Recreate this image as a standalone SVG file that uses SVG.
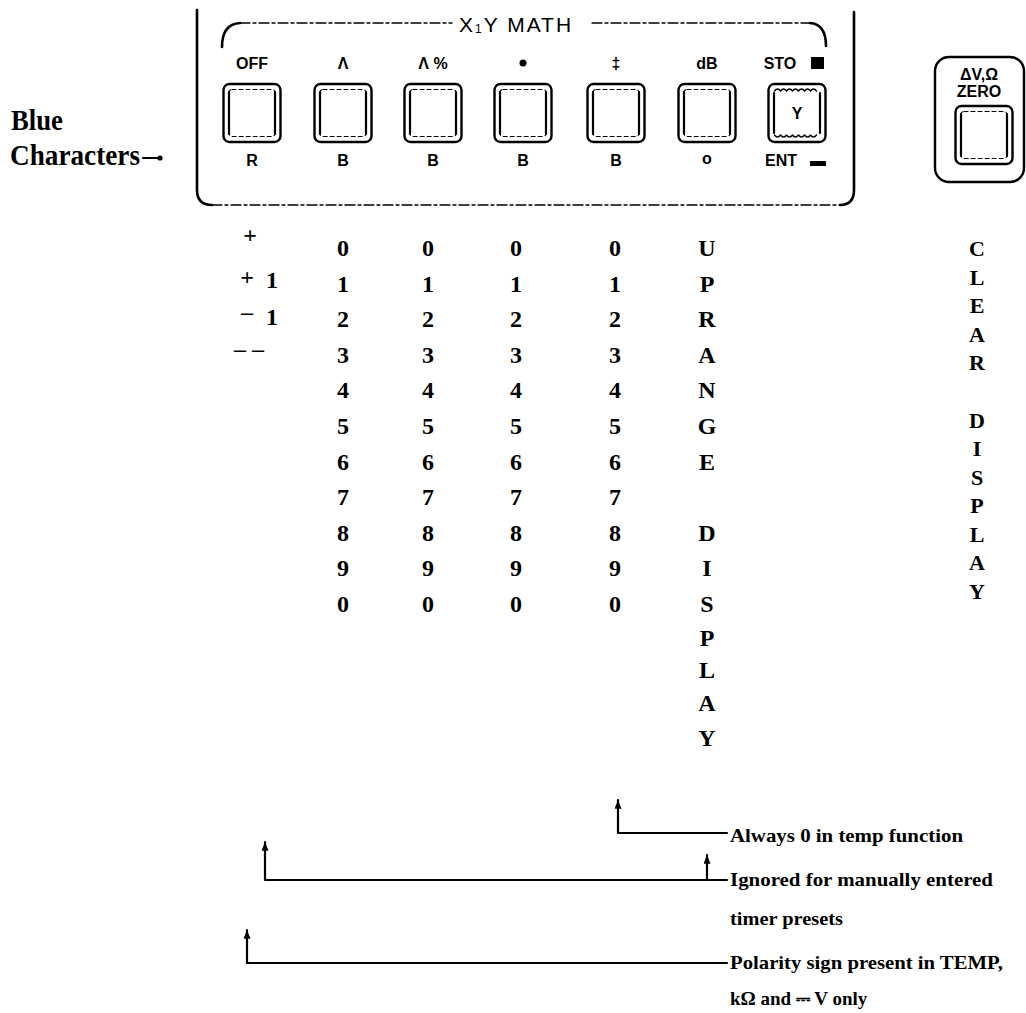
<svg xmlns="http://www.w3.org/2000/svg" width="1026" height="1013" viewBox="0 0 1026 1013">
  <style>
    .ink { fill: none; stroke: #000; stroke-linecap: round; stroke-linejoin: round; }
    .thick { stroke-width: 2.6; }
    .thin { stroke-width: 1.4; }
    .dash { stroke-width: 1.3; stroke-dasharray: 10 3 3 3; }
    .lbl { font-family: "Liberation Sans", Arial, sans-serif; font-weight: bold; font-size: 16px; fill: #000; text-anchor: middle; }
    .col { font-family: "Liberation Serif", "Times New Roman", serif; font-weight: bold; font-size: 24px; fill: #000; text-anchor: middle; }
    .col2 { font-family: "Liberation Serif", "Times New Roman", serif; font-weight: bold; font-size: 22px; fill: #000; text-anchor: middle; }
    .note { font-family: "Liberation Serif", "Times New Roman", serif; font-weight: bold; font-size: 19px; fill: #000; }
    .side { font-family: "Liberation Serif", "Times New Roman", serif; font-weight: bold; font-size: 30px; fill: #000; }
  </style>
  <defs>
    <!-- push-button: outer rounded frame with inner frame -->
    <symbol id="key" viewBox="0 0 59 60" width="59" height="60" overflow="visible">
      <rect x="1" y="1" width="57" height="58" rx="6" class="ink" stroke-width="2.4"/>
      <rect x="6.5" y="6.5" width="46" height="47" rx="3" class="ink" stroke-width="1.1" stroke-dasharray="4 3"/>
      <path d="M6.5,9 V51 M52.5,9 V51" class="ink" stroke-width="2.2"/>
    </symbol>
    <!-- push-button with scalloped inner edges -->
    <symbol id="keyS" viewBox="0 0 59 60" width="59" height="60" overflow="visible">
      <rect x="1" y="1" width="57" height="58" rx="6" class="ink" stroke-width="2.4"/>
      <path d="M6.5,10 V50 M52.5,10 V50" class="ink" stroke-width="2.2"/>
      <path d="M7,8 q3,-4 6,0 q3,-4 6,0 q3,-4 6,0 q3,-4 6,0 q3,-4 6,0 q3,-4 6,0 q3,-4 6,0" class="ink" stroke-width="1.4"/>
      <path d="M7,52 q3,4 6,0 q3,4 6,0 q3,4 6,0 q3,4 6,0 q3,4 6,0 q3,4 6,0 q3,4 6,0" class="ink" stroke-width="1.4"/>
    </symbol>
    <!-- small solid arrowhead, tip placed at the start of a leader -->
    <marker id="up" viewBox="0 0 10 8" refX="10" refY="4" markerWidth="10" markerHeight="7" orient="auto-start-reverse" markerUnits="userSpaceOnUse">
      <path d="M0,0 L10,4 L0,8 Z" fill="#000"/>
    </marker>
  </defs>

  <rect width="1026" height="1013" fill="#fff"/>

  <!-- side caption -->
  <g id="blue-characters">
    <text class="side" x="11" y="130" textLength="52" lengthAdjust="spacingAndGlyphs">Blue</text>
    <text class="side" x="10" y="165" textLength="130" lengthAdjust="spacingAndGlyphs">Characters</text>
    <path d="M143,158 H158" class="ink" stroke-width="2"/>
    <circle cx="160" cy="158" r="2.6" fill="#000"/>
  </g>

  <!-- X,Y MATH panel -->
  <g id="math-panel">
    <path d="M197,10 V190 Q197,205 212,205" class="ink thick"/>
    <path d="M212,205 H840" class="ink dash"/>
    <path d="M840,205 Q854,205 854,190 V12" class="ink thick"/>
    <path d="M222,47 Q222,24 240,23" class="ink thick"/>
    <path d="M240,23 H452" class="ink dash"/>
    <text x="459" y="32" font-family="Liberation Sans, Arial, sans-serif" font-size="21" letter-spacing="2" fill="#000">X<tspan font-size="12" dy="1">1</tspan><tspan dy="-1">Y  MATH</tspan></text>
    <path d="M592,23 H810" class="ink dash"/>
    <path d="M810,23 Q826,24 826,46" class="ink thick"/>
  </g>

  <g id="key-off">
    <text class="lbl" x="252" y="69">OFF</text>
    <use href="#key" x="222.5" y="83"/>
    <text class="lbl" x="252" y="166">R</text>
  </g>
  <g id="key-delta">
    <text class="lbl" x="343" y="69">Λ</text>
    <use href="#key" x="313.5" y="83"/>
    <text class="lbl" x="343" y="166">B</text>
  </g>
  <g id="key-delta-pct">
    <text class="lbl" x="433" y="69">Λ %</text>
    <use href="#key" x="403.5" y="83"/>
    <text class="lbl" x="433" y="166">B</text>
  </g>
  <g id="key-mult">
    <circle cx="523" cy="63" r="3.5" fill="#000"/>
    <use href="#key" x="493.5" y="83"/>
    <text class="lbl" x="523" y="166">B</text>
  </g>
  <g id="key-div">
    <text class="lbl" x="616" y="69">‡</text>
    <use href="#key" x="586.5" y="83"/>
    <text class="lbl" x="616" y="166">B</text>
  </g>
  <g id="key-db">
    <text class="lbl" x="707" y="69">dB</text>
    <use href="#key" x="677.5" y="83"/>
    <text class="lbl" x="707" y="164" font-size="13">o</text>
  </g>
  <g id="key-sto">
    <text class="lbl" x="780" y="69">STO</text>
    <rect x="811" y="57" width="13" height="12" fill="#000"/>
    <use href="#keyS" x="767.5" y="83"/>
    <text class="lbl" x="797" y="119">Y</text>
    <text class="lbl" x="781" y="166">ENT</text>
    <rect x="810" y="161" width="16" height="5" fill="#000"/>
  </g>

  <!-- zero key -->
  <g id="zero-key">
    <rect x="935" y="57" width="89" height="125" rx="14" class="ink" stroke-width="2.4"/>
    <text class="lbl" x="979" y="80" font-size="9">ΔV,Ω</text>
    <text class="lbl" x="979" y="97" font-size="9">ZERO</text>
    <use href="#key" x="954.5" y="105"/>
  </g>

  <!-- character columns -->
  <g id="col-sign">
    <text class="col" x="250" y="243" font-size="17">+</text>
    <text class="col" x="247" y="285" font-size="15">+</text>
    <text class="col" x="272" y="288">1</text>
    <text class="col" x="247" y="320" font-size="15">–</text>
    <text class="col" x="272" y="325">1</text>
    <text class="col" x="249" y="357" font-size="12">– –</text>
  </g>
  <g id="col-digits-1">
    <text class="col" x="343" y="256">0</text><text class="col" x="343" y="292">1</text><text class="col" x="343" y="327">2</text><text class="col" x="343" y="363">3</text><text class="col" x="343" y="398">4</text><text class="col" x="343" y="434">5</text><text class="col" x="343" y="470">6</text><text class="col" x="343" y="505">7</text><text class="col" x="343" y="541">8</text><text class="col" x="343" y="576">9</text><text class="col" x="343" y="612">0</text>
  </g>
  <g id="col-digits-2">
    <text class="col" x="428" y="256">0</text><text class="col" x="428" y="292">1</text><text class="col" x="428" y="327">2</text><text class="col" x="428" y="363">3</text><text class="col" x="428" y="398">4</text><text class="col" x="428" y="434">5</text><text class="col" x="428" y="470">6</text><text class="col" x="428" y="505">7</text><text class="col" x="428" y="541">8</text><text class="col" x="428" y="576">9</text><text class="col" x="428" y="612">0</text>
  </g>
  <g id="col-digits-3">
    <text class="col" x="516" y="256">0</text><text class="col" x="516" y="292">1</text><text class="col" x="516" y="327">2</text><text class="col" x="516" y="363">3</text><text class="col" x="516" y="398">4</text><text class="col" x="516" y="434">5</text><text class="col" x="516" y="470">6</text><text class="col" x="516" y="505">7</text><text class="col" x="516" y="541">8</text><text class="col" x="516" y="576">9</text><text class="col" x="516" y="612">0</text>
  </g>
  <g id="col-digits-4">
    <text class="col" x="615" y="256">0</text><text class="col" x="615" y="292">1</text><text class="col" x="615" y="327">2</text><text class="col" x="615" y="363">3</text><text class="col" x="615" y="398">4</text><text class="col" x="615" y="434">5</text><text class="col" x="615" y="470">6</text><text class="col" x="615" y="505">7</text><text class="col" x="615" y="541">8</text><text class="col" x="615" y="576">9</text><text class="col" x="615" y="612">0</text>
  </g>
  <g id="col-uprange">
    <text class="col" x="707" y="256">U</text><text class="col" x="707" y="292">P</text><text class="col" x="707" y="327">R</text><text class="col" x="707" y="363">A</text><text class="col" x="707" y="398">N</text><text class="col" x="707" y="434">G</text><text class="col" x="707" y="470">E</text>
    <text class="col" x="707" y="541">D</text><text class="col" x="707" y="576">I</text><text class="col" x="707" y="612">S</text><text class="col" x="707" y="646">P</text><text class="col" x="707" y="678">L</text><text class="col" x="707" y="711">A</text><text class="col" x="707" y="746">Y</text>
  </g>
  <g id="col-clear">
    <text class="col2" x="977" y="256">C</text><text class="col2" x="977" y="285">L</text><text class="col2" x="977" y="313">E</text><text class="col2" x="977" y="342">A</text><text class="col2" x="977" y="370">R</text>
    <text class="col2" x="977" y="428">D</text><text class="col2" x="977" y="456">I</text><text class="col2" x="977" y="485">S</text><text class="col2" x="977" y="513">P</text><text class="col2" x="977" y="542">L</text><text class="col2" x="977" y="570">A</text><text class="col2" x="977" y="599">Y</text>
  </g>

  <!-- callout leaders -->
  <g id="connectors" class="ink" stroke-width="2.2">
    <path d="M618,800 V833 H727" marker-start="url(#up)"/>
    <path d="M265,842 V880 H727" marker-start="url(#up)"/>
    <path d="M707,855 V880" marker-start="url(#up)"/>
    <path d="M247,930 V963 H727" marker-start="url(#up)"/>
  </g>

  <g id="note-temp">
    <text class="note" x="730" y="842" textLength="233" lengthAdjust="spacingAndGlyphs">Always 0 in temp function</text>
  </g>
  <g id="note-timer">
    <text class="note" x="730" y="886" textLength="263" lengthAdjust="spacingAndGlyphs">Ignored for manually entered</text>
    <text class="note" x="730" y="925" textLength="113" lengthAdjust="spacingAndGlyphs">timer presets</text>
  </g>
  <g id="note-polarity">
    <text class="note" x="730" y="969" textLength="273" lengthAdjust="spacingAndGlyphs">Polarity sign present in TEMP,</text>
    <text class="note" x="730" y="1005">kΩ and <tspan font-family="DejaVu Sans, sans-serif" font-size="18">⎓</tspan> V only</text>
  </g>
</svg>
